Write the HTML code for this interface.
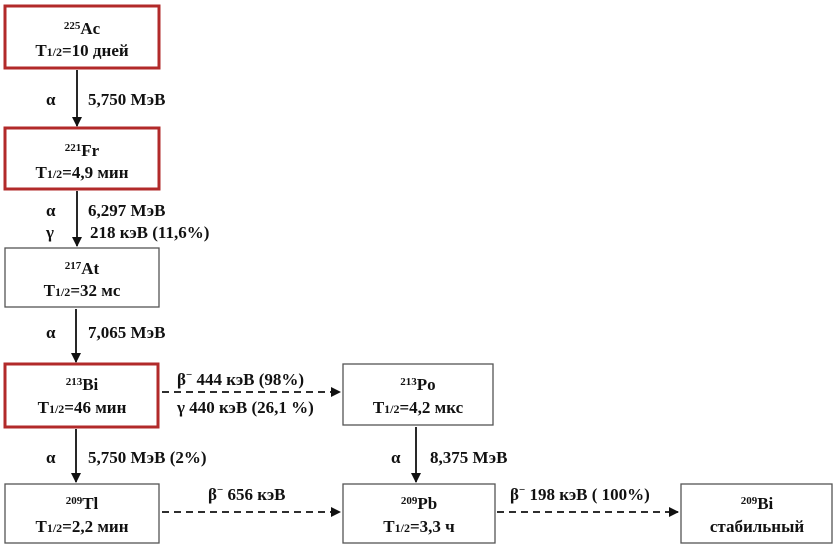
<!DOCTYPE html>
<html><head><meta charset="utf-8"><style>
body{margin:0;background:#fff}
svg text{font-family:"Liberation Serif",serif;font-weight:bold;font-size:17px;fill:#111}
</style></head><body>
<svg width="836" height="553" viewBox="0 0 836 553" xmlns="http://www.w3.org/2000/svg">
<defs><marker id="a" markerWidth="10" markerHeight="10" refX="9" refY="5" orient="auto" markerUnits="userSpaceOnUse"><path d="M0,0 L10,5 L0,10 z" fill="#111"/></marker></defs>
<g fill="none">
<rect x="5" y="6" width="154" height="62" stroke="#b22a2a" stroke-width="3"/>
<rect x="5" y="128" width="154" height="61" stroke="#b22a2a" stroke-width="3"/>
<rect x="5" y="248" width="154" height="59" stroke="#555" stroke-width="1.3"/>
<rect x="5" y="364" width="153" height="63" stroke="#b22a2a" stroke-width="3"/>
<rect x="343" y="364" width="150" height="61" stroke="#555" stroke-width="1.3"/>
<rect x="5" y="484" width="154" height="59" stroke="#555" stroke-width="1.3"/>
<rect x="343" y="484" width="152" height="59" stroke="#555" stroke-width="1.3"/>
<rect x="681" y="484" width="151" height="59" stroke="#555" stroke-width="1.3"/>
<g stroke="#111" stroke-width="1.8">
<line x1="77" y1="70" x2="77" y2="126" marker-end="url(#a)"/>
<line x1="77" y1="191" x2="77" y2="246" marker-end="url(#a)"/>
<line x1="76" y1="309" x2="76" y2="362" marker-end="url(#a)"/>
<line x1="76" y1="429" x2="76" y2="482" marker-end="url(#a)"/>
<line x1="416" y1="427" x2="416" y2="482" marker-end="url(#a)"/>
<line x1="162" y1="392" x2="340" y2="392" stroke-dasharray="7,5" marker-end="url(#a)"/>
<line x1="162" y1="512" x2="340" y2="512" stroke-dasharray="7,5" marker-end="url(#a)"/>
<line x1="497" y1="512" x2="678" y2="512" stroke-dasharray="7,5" marker-end="url(#a)"/>
</g></g>
<g text-anchor="middle">
<text x="82" y="34"><tspan font-size="11" dy="-5">225</tspan><tspan dy="5">Ac</tspan></text>
<text x="82" y="56">T<tspan font-size="12">1/2</tspan>=10 дней</text>
<text x="82" y="156"><tspan font-size="11" dy="-5">221</tspan><tspan dy="5">Fr</tspan></text>
<text x="82" y="178">T<tspan font-size="12">1/2</tspan>=4,9 мин</text>
<text x="82" y="274"><tspan font-size="11" dy="-5">217</tspan><tspan dy="5">At</tspan></text>
<text x="82" y="296">T<tspan font-size="12">1/2</tspan>=32 мс</text>
<text x="82" y="390"><tspan font-size="11" dy="-5">213</tspan><tspan dy="5">Bi</tspan></text>
<text x="82" y="413">T<tspan font-size="12">1/2</tspan>=46 мин</text>
<text x="418" y="390"><tspan font-size="11" dy="-5">213</tspan><tspan dy="5">Po</tspan></text>
<text x="418" y="413">T<tspan font-size="12">1/2</tspan>=4,2 мкс</text>
<text x="82" y="509"><tspan font-size="11" dy="-5">209</tspan><tspan dy="5">Tl</tspan></text>
<text x="82" y="532">T<tspan font-size="12">1/2</tspan>=2,2 мин</text>
<text x="419" y="509"><tspan font-size="11" dy="-5">209</tspan><tspan dy="5">Pb</tspan></text>
<text x="419" y="532">T<tspan font-size="12">1/2</tspan>=3,3 ч</text>
<text x="757" y="509"><tspan font-size="11" dy="-5">209</tspan><tspan dy="5">Bi</tspan></text>
<text x="757" y="532">стабильный</text>
</g>
<text x="46" y="105">α</text><text x="88" y="105">5,750 МэВ</text>
<text x="46" y="216">α</text><text x="88" y="216">6,297 МэВ</text>
<text x="46" y="238">γ</text><text x="90" y="238">218 кэВ (11,6%)</text>
<text x="46" y="338">α</text><text x="88" y="338">7,065 МэВ</text>
<text x="46" y="463">α</text><text x="88" y="463">5,750 МэВ (2%)</text>
<text x="391" y="463">α</text><text x="430" y="463">8,375 МэВ</text>
<text x="177" y="385">β<tspan font-size="11" dy="-7">−</tspan><tspan dy="7"> 444 кэВ (98%)</tspan></text>
<text x="177" y="413">γ 440 кэВ (26,1 %)</text>
<text x="208" y="500">β<tspan font-size="11" dy="-7">−</tspan><tspan dy="7"> 656 кэВ</tspan></text>
<text x="510" y="500">β<tspan font-size="11" dy="-7">−</tspan><tspan dy="7"> 198 кэВ ( 100%)</tspan></text>
</svg>
</body></html>
